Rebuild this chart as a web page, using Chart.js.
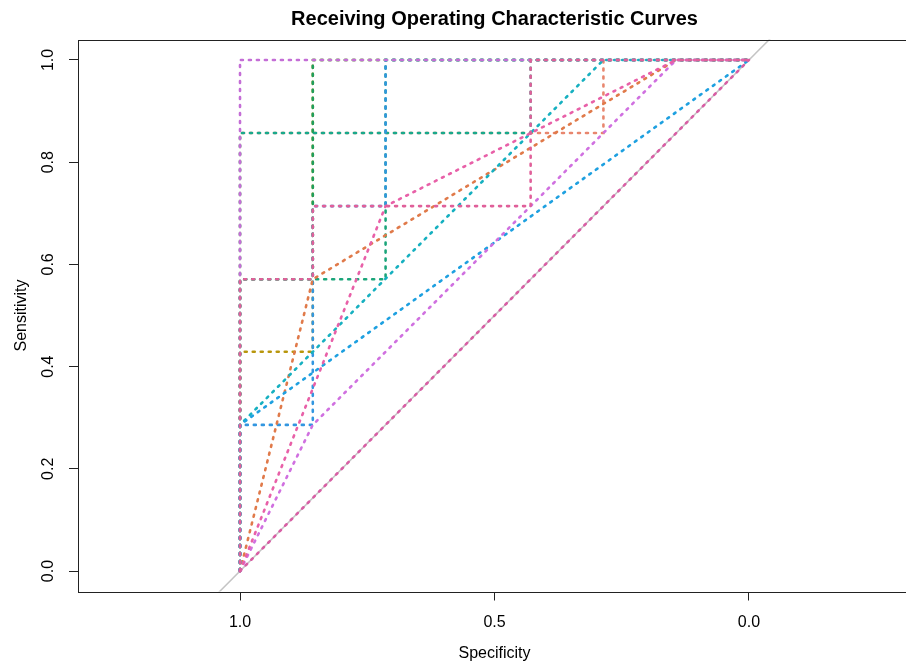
<!DOCTYPE html>
<html>
<head>
<meta charset="utf-8">
<title>ROC curves</title>
<script src="https://cdn.jsdelivr.net/npm/chart.js@4/dist/chart.umd.min.js"></script>
<style>
  html, body { margin: 0; padding: 0; background: #fff; overflow: hidden; }
  canvas { display: block; }
</style>
</head>
<body>
<canvas id="grafico" width="912" height="663"></canvas>
<script>
// Ejes
var xTicks = [1.0, 0.5, 0.0];
var yTicks = [0.0, 0.2, 0.4, 0.6, 0.8, 1.0];

// Linea de referencia (sens = 1 - spec)
var refSpec = [1.1, -0.1];
var refSens = [-0.1, 1.1];

// Curvas ROC (especificidad, sensibilidad), en orden de dibujo
var curveNames = ["olive", "salmon", "tealGreen", "green", "darkGreen", "blueStep", "orange",
                  "teal", "blueDiag", "violet", "pinkDiag", "magenta", "purple", "pink"];
var curveColors = ["#b8960c", "#e8866e", "#19a98c", "#1ba57a", "#1e9e5e", "#3296e0", "#e07a4a",
                   "#16b0c0", "#1ea0e0", "#d070e0", "#e860a8", "#d85ea4", "#c46ed6", "#e0609a"];
var curveSpec = [
  [1, 1, 0.857, 0.857, 0],
  [1, 1, 0.286, 0.286, 0],
  [1, 1, 0.429, 0.429, 0],
  [1, 1, 0.857, 0.714, 0.714, 0],
  [1, 1, 0.857, 0.857, 0],
  [1, 1, 0.857, 0.857, 0.714, 0.714, 0],
  [1, 0.857, 0.143, 0],
  [1, 1, 0.286, 0],
  [1, 1, 0],
  [1, 0.857, 0.429, 0.143, 0],
  [1, 0.714, 0.143, 0],
  [1, 0],
  [1, 1, 0],
  [1, 1, 0.857, 0.857, 0.429, 0.429, 0]
];
var curveSens = [
  [0, 0.429, 0.429, 1, 1],
  [0, 0.857, 0.857, 1, 1],
  [0, 0.857, 0.857, 1, 1],
  [0, 0.571, 0.571, 0.571, 1, 1],
  [0, 0.571, 0.571, 1, 1],
  [0, 0.286, 0.286, 0.714, 0.714, 1, 1],
  [0, 0.571, 1, 1],
  [0, 0.286, 1, 1],
  [0, 0.286, 1],
  [0, 0.286, 0.714, 1, 1],
  [0, 0.714, 1, 1],
  [0, 1],
  [0, 1, 1],
  [0, 0.571, 0.571, 0.714, 0.714, 1, 1]
];

function puntos(xs, ys) {
  return xs.map(function (x, i) { return { x: x, y: ys[i] }; });
}

var datasets = [];
var n = curveSpec.length;
// linea gris al fondo
datasets.push({
  label: "ref",
  data: puntos(refSpec, refSens),
  borderColor: "#c4c4c4",
  borderWidth: 1.5,
  showLine: true,
  pointRadius: 0,
  clip: 0,
  order: n + 1
});
for (var i = 0; i < n; i++) {
  datasets.push({
    label: curveNames[i],
    data: puntos(curveSpec[i], curveSens[i]),
    borderColor: curveColors[i],
    borderWidth: 2.6,
    borderDash: [2, 6],
    borderCapStyle: "round",
    showLine: true,
    pointRadius: 0,
    clip: 4,
    order: n - i  // las ultimas quedan encima
  });
}

// caja alrededor del area (como en R)
var cajaPlugin = {
  id: "caja",
  afterDraw: function (chart) {
    var a = chart.chartArea;
    var ctx = chart.ctx;
    ctx.save();
    ctx.strokeStyle = "#222";
    ctx.lineWidth = 1;
    ctx.strokeRect(Math.round(a.left) + 0.5, Math.round(a.top) + 0.5,
                   Math.round(a.right - a.left), Math.round(a.bottom - a.top));
    ctx.restore();
  }
};

Chart.defaults.font.family = "'Liberation Sans', Arial, sans-serif";
Chart.defaults.color = "#000";

var ctx = document.getElementById("grafico").getContext("2d");
var grafico = new Chart(ctx, {
  type: "scatter",
  data: { datasets: datasets },
  plugins: [cajaPlugin],
  options: {
    responsive: false,
    animation: false,
    layout: { padding: { left: 0, right: 1, top: 0, bottom: 0 } },
    plugins: {
      legend: { display: false },
      tooltip: { enabled: false },
      title: {
        display: true,
        fullSize: false,
        text: "Receiving Operating Characteristic Curves",
        font: { size: 20, weight: "bold" },
        color: "#000",
        padding: { top: 7, bottom: 8.5 }
      }
    },
    scales: {
      x: {
        type: "linear",
        reverse: true,
        min: -0.3183,
        max: 1.3183,
        afterBuildTicks: function (a) { a.ticks = xTicks.map(function (v) { return { value: v }; }); },
        afterFit: function (s) { s.height = 71.5; },
        grid: { drawOnChartArea: false, tickLength: 9, tickColor: "#222", lineWidth: 1 },
        border: { display: false },
        ticks: {
          font: { size: 16 }, color: "#000", padding: 12, maxRotation: 0, autoSkip: false,
          callback: function (v) { return v.toFixed(1); }
        },
        title: { display: true, text: "Specificity", font: { size: 16 }, color: "#000",
                 padding: { top: 0, bottom: 0 } }
      },
      y: {
        type: "linear",
        min: -0.04,
        max: 1.04,
        afterBuildTicks: function (a) { a.ticks = yTicks.map(function (v) { return { value: v }; }); },
        afterFit: function (s) { s.width = 78; },
        grid: { drawOnChartArea: false, tickLength: 9, tickColor: "#222", lineWidth: 1 },
        border: { display: false },
        ticks: {
          font: { size: 16 }, color: "#000", padding: 9, minRotation: 90, maxRotation: 90,
          crossAlign: "center", autoSkip: false,
          callback: function (v) { return v.toFixed(1); }
        },
        title: { display: true, text: "Sensitivity", font: { size: 16 }, color: "#000",
                 padding: { top: 12, bottom: 0 } }
      }
    }
  }
});
</script>
</body>
</html>
